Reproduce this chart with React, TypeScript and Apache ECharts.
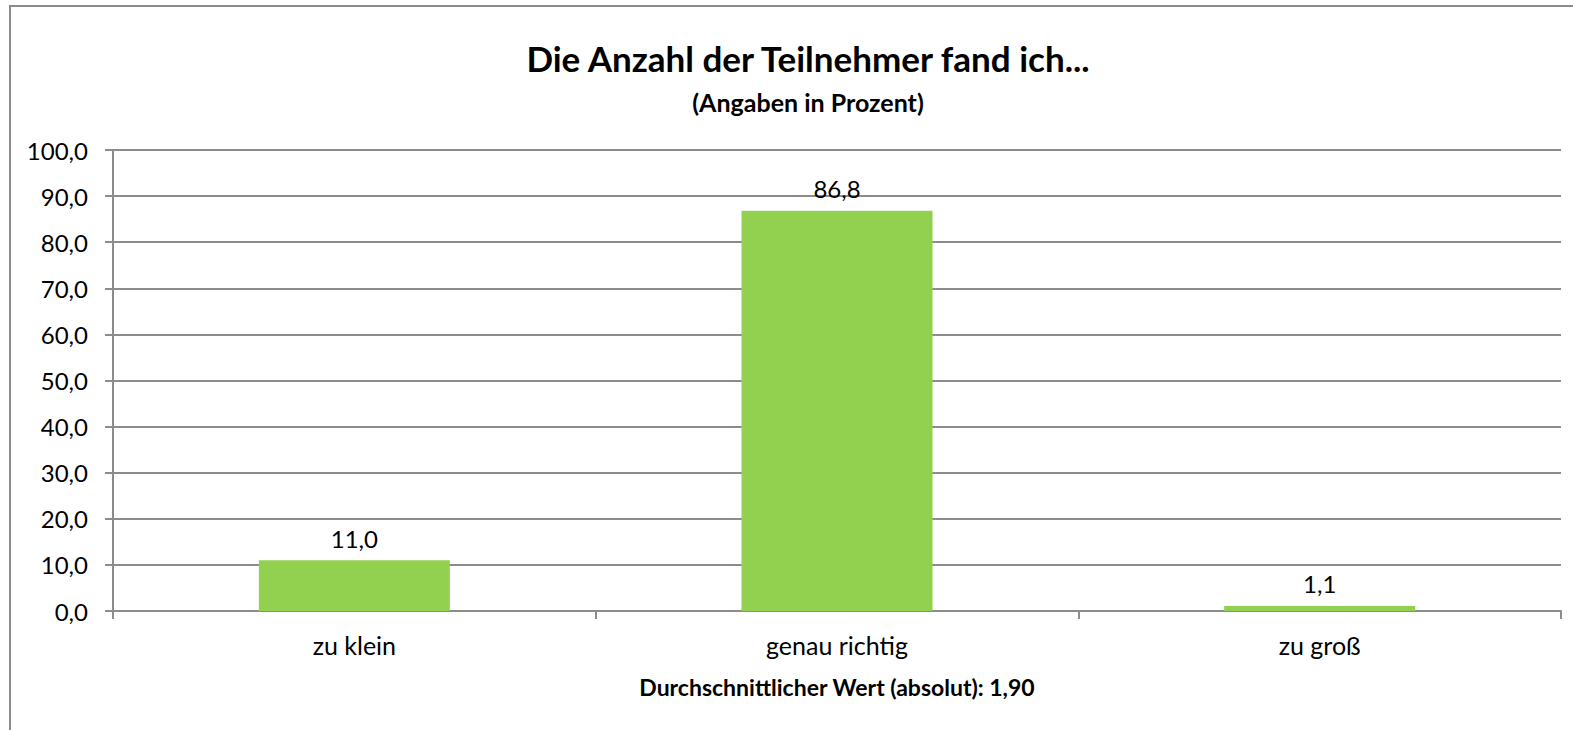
import React, { useEffect, useRef } from "react";
import * as echarts from "echarts";

const title = "Die Anzahl der Teilnehmer fand ich...";
const subtitle = "(Angaben in Prozent)";
const categories = ["zu klein", "genau richtig", "zu groß"];
const values = [11.0, 86.8, 1.1];
const xAxisName = "Durchschnittlicher Wert (absolut): 1,90";

const fmt = (v: number) => v.toFixed(1).replace(".", ",");
const FONT = "Lato";

export default function App() {
  const ref = useRef<HTMLDivElement>(null);
  useEffect(() => {
    if (!ref.current) return;
    const chart = echarts.init(ref.current, undefined, { renderer: "svg" });
    chart.setOption({
      animation: false,
      backgroundColor: "#ffffff",
      title: {
        text: title,
        subtext: subtitle,
        top: 35,
        left: 803,
        textAlign: "center",
        itemGap: 13,
        textStyle: { fontFamily: FONT, fontWeight: "bold", fontSize: 35, lineHeight: 36, color: "#000" },
        subtextStyle: { fontFamily: FONT, fontWeight: "bold", fontSize: 25, lineHeight: 26, color: "#000" },
      },
      graphic: [
        {
          type: "rect",
          shape: { x: 10, y: 6, width: 1700, height: 900 },
          style: { fill: "none", stroke: "#8c8c8c", lineWidth: 2 },
          silent: true,
        },
      ],
      grid: { left: 113, right: 12, top: 150, bottom: 119 },
      xAxis: {
        type: "category",
        data: categories,
        name: xAxisName,
        nameLocation: "middle",
        nameGap: 64,
        nameTextStyle: { fontFamily: FONT, fontWeight: "bold", fontSize: 23, color: "#000" },
        axisLine: { show: true, lineStyle: { color: "#8c8c8c", width: 2 } },
        axisTick: { show: true, length: 8, lineStyle: { color: "#8c8c8c", width: 2 } },
        axisLabel: { fontFamily: FONT, fontSize: 25, color: "#000", margin: 21 },
      },
      yAxis: {
        type: "value",
        min: 0,
        max: 100,
        interval: 10,
        axisLine: { show: true, lineStyle: { color: "#8c8c8c", width: 2 } },
        axisTick: { show: true, length: 8, lineStyle: { color: "#8c8c8c", width: 2 } },
        axisLabel: { fontFamily: FONT, fontSize: 24, color: "#000", margin: 25, formatter: (v: number) => fmt(v) },
        splitLine: { show: true, lineStyle: { color: "#8c8c8c", width: 2 } },
      },
      series: [
        {
          type: "bar",
          data: values,
          barWidth: 191,
          itemStyle: { color: "#92d050" },
          label: {
            show: true,
            position: "top",
            distance: 10,
            fontFamily: FONT,
            fontSize: 24,
            color: "#000",
            formatter: (p: any) => fmt(p.value),
          },
        },
      ],
    });
    return () => chart.dispose();
  }, []);
  return (
    <div
      ref={ref}
      style={{ position: "fixed", left: 0, top: 0, width: 1573, height: 730 }}
    />
  );
}
